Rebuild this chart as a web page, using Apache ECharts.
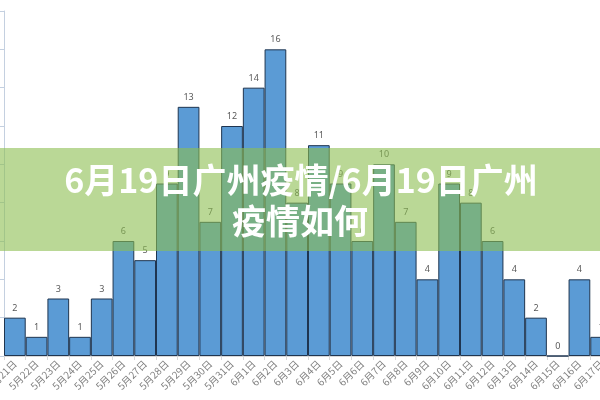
<!DOCTYPE html>
<html lang="zh">
<head>
    <meta charset="UTF-8">
    <title>6月19日广州疫情</title>
    <style>
        html, body { margin: 0; padding: 0; background: #fff; }
    </style>
</head>
<body>
<div id="main" style="width: 600px;height:400px;"></div>
<script src="https://cdn.jsdelivr.net/npm/echarts@6/dist/echarts.min.js"></script>
<script>
    // 每日新增
    var days = ['5月21日', '5月22日', '5月23日', '5月24日', '5月25日', '5月26日', '5月27日',
        '5月28日', '5月29日', '5月30日', '5月31日', '6月1日', '6月2日', '6月3日',
        '6月4日', '6月5日', '6月6日', '6月7日', '6月8日', '6月9日', '6月10日',
        '6月11日', '6月12日', '6月13日', '6月14日', '6月15日', '6月16日', '6月17日'];
    var counts = [2, 1, 3, 1, 3, 6, 5, 9, 13, 7, 12, 14, 16, 8,
        11, 9, 6, 10, 7, 4, 9, 8, 6, 4, 2, 0, 4, 1];
    var titleLines = ['6月19日广州疫情/6月19日广州', '疫情如何'];

    var myChart = echarts.init(document.getElementById('main'));

    var option = {
        animation: false,
        grid: { left: 4, width: 608, top: 11, bottom: 44, outerBoundsMode: 'none', containLabel: false },
        xAxis: {
            type: 'category',
            data: days,
            axisLine: { lineStyle: { color: '#d9d9d9' } },
            axisTick: { show: true, length: 4, lineStyle: { color: '#d9d9d9' } },
            axisLabel: {
                rotate: 45,
                interval: 0,
                fontSize: 10,
                color: '#7f7f7f',
                margin: 6,
                fontFamily: 'Noto Sans CJK SC'
            }
        },
        yAxis: {
            type: 'value',
            min: 0,
            max: 18,
            interval: 2,
            axisLine: { show: true, lineStyle: { color: '#c4d0e0' } },
            axisTick: { show: true, length: 4, lineStyle: { color: '#c4d0e0' } },
            axisLabel: { show: false },
            splitLine: { show: false }
        },
        series: [{
            type: 'bar',
            data: counts,
            barCategoryGap: 0,
            itemStyle: {
                color: '#5b9bd5',
                borderColor: '#1f3550',
                borderWidth: 1
            },
            label: {
                show: true,
                position: 'top',
                distance: 5,
                fontSize: 9,
                color: '#595959',
                fontFamily: 'Noto Sans'
            }
        }],
        graphic: [
            {
                type: 'rect',
                z: 100,
                shape: { x: 0, y: 148, width: 600, height: 103 },
                style: { fill: 'rgba(140,190,80,0.6)' }
            },
            {
                type: 'text',
                z: 101,
                x: 301,
                y: 180,
                style: {
                    text: titleLines[0],
                    fill: '#fff',
                    font: 'bold 34px "Noto Sans CJK SC"',
                    textAlign: 'center',
                    textVerticalAlign: 'middle'
                }
            },
            {
                type: 'text',
                z: 101,
                x: 300,
                y: 221,
                style: {
                    text: titleLines[1],
                    fill: '#fff',
                    font: 'bold 34px "Noto Sans CJK SC"',
                    textAlign: 'center',
                    textVerticalAlign: 'middle'
                }
            }
        ]
    };

    myChart.setOption(option);
</script>
</body>
</html>
